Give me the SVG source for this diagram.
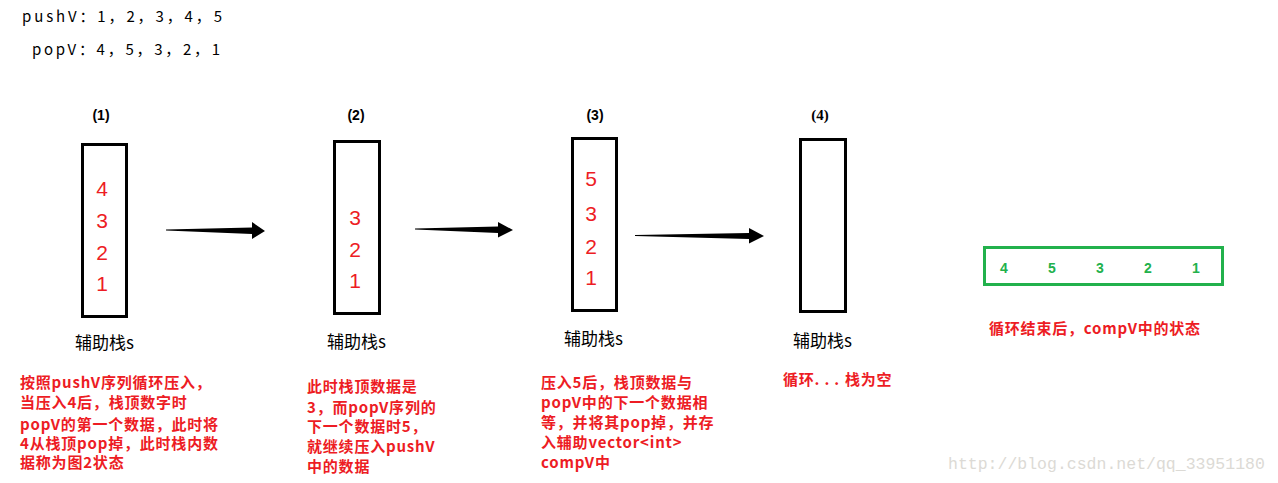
<svg xmlns="http://www.w3.org/2000/svg" width="1278" height="483" viewBox="0 0 1278 483">
<style>
.top{font-family:"Noto Sans CJK SC","Liberation Sans",sans-serif;font-size:15px;fill:#000}
.num{font-family:"Liberation Sans",Arial,sans-serif;font-size:21px;fill:#ed1c24;text-anchor:middle}
.gnum{font-family:"Liberation Sans",Arial,sans-serif;font-size:14px;font-weight:bold;fill:#22b14c;text-anchor:middle}
.tag{font-family:"Liberation Sans",Arial,sans-serif;font-size:14px;font-weight:bold;fill:#000;text-anchor:middle}
.lab{font-family:"Noto Sans CJK SC","Liberation Sans",sans-serif;font-size:17px;fill:#000}
.note{font-family:"Noto Sans CJK SC","Liberation Sans",sans-serif;font-size:15px;font-weight:bold;fill:#ed1c24;letter-spacing:0.8px}
.box{fill:none;stroke:#000;stroke-width:3}
.arrow{fill:#000}
</style>
<rect width="1278" height="483" fill="#fff"/>
<g id="header">
<text class="top" x="22" y="22" textLength="200" lengthAdjust="spacing">pushV：1，2，3，4，5</text>
<text class="top" x="32" y="55" textLength="188" lengthAdjust="spacing">popV：4，5，3，2，1</text>
</g>
<g id="stack1">
<text class="tag" x="101" y="120">(1)</text>
<rect class="box" x="82.5" y="144.5" width="44" height="172"/>
<text class="num" x="102" y="196">4</text>
<text class="num" x="102" y="228">3</text>
<text class="num" x="102" y="260">2</text>
<text class="num" x="102" y="291">1</text>
<text class="lab" x="75" y="349">辅助栈s</text>
</g>
<g id="stack2">
<text class="tag" x="356" y="120">(2)</text>
<rect class="box" x="334.5" y="141.5" width="45" height="172"/>
<text class="num" x="355" y="225">3</text>
<text class="num" x="355" y="257">2</text>
<text class="num" x="355" y="288">1</text>
<text class="lab" x="327" y="348">辅助栈s</text>
</g>
<g id="stack3">
<text class="tag" x="595" y="120">(3)</text>
<rect class="box" x="572.5" y="138.5" width="44" height="172"/>
<text class="num" x="591" y="186">5</text>
<text class="num" x="591" y="221">3</text>
<text class="num" x="591" y="254">2</text>
<text class="num" x="591" y="285">1</text>
<text class="lab" x="564" y="345">辅助栈s</text>
</g>
<g id="stack4">
<text class="tag" x="820" y="120" style="font-family:'Liberation Serif',serif;font-size:15px">(4)</text>
<rect class="box" x="800.5" y="139.5" width="45" height="172"/>
<text class="lab" x="793" y="347">辅助栈s</text>
</g>
<g id="compV">
<rect x="984.5" y="247.5" width="238" height="37" fill="none" stroke="#22b14c" stroke-width="3"/>
<text class="gnum" x="1004" y="273">4</text>
<text class="gnum" x="1052" y="273">5</text>
<text class="gnum" x="1100" y="273">3</text>
<text class="gnum" x="1148" y="273">2</text>
<text class="gnum" x="1196" y="273">1</text>
<text class="note" x="989" y="334">循环结束后，compV中的状态</text>
</g>
<g id="connectors">
<path class="arrow" d="M166,229.5 L252,227.5 L252,222 L265,231 L252,239 L252,234 L166,230.5 Z"/>
<path class="arrow" d="M415,228.5 L498,226.5 L498,222 L513,230 L498,237.5 L498,233 L415,229.5 Z"/>
<path class="arrow" d="M635,235 L749,233 L749,228 L764,236 L749,243.5 L749,239 L635,236 Z"/>
</g>
<g id="note1">
<text class="note" x="20" y="388">按照pushV序列循环压入，</text>
<text class="note" x="20" y="408">当压入4后，栈顶数字时</text>
<text class="note" x="20" y="430">popV的第一个数据，此时将</text>
<text class="note" x="20" y="449">4从栈顶pop掉，此时栈内数</text>
<text class="note" x="20" y="468">据称为图2状态</text>
</g>
<g id="note2">
<text class="note" x="307" y="392">此时栈顶数据是</text>
<text class="note" x="307" y="413">3，而popV序列的</text>
<text class="note" x="307" y="432">下一个数据时5，</text>
<text class="note" x="307" y="452">就继续压入pushV</text>
<text class="note" x="307" y="472">中的数据</text>
</g>
<g id="note3">
<text class="note" x="541" y="388">压入5后，栈顶数据与</text>
<text class="note" x="541" y="408">popV中的下一个数据相</text>
<text class="note" x="541" y="428">等，并将其pop掉，并存</text>
<text class="note" x="541" y="448">入辅助vector&lt;int&gt;</text>
<text class="note" x="541" y="468">compV中</text>
</g>
<g id="note4">
<text class="note" x="783" y="385">循环<tspan style="letter-spacing:5px">...</tspan><tspan x="845">栈为空</tspan></text>
</g>
<text x="948" y="469" style="font-family:'Liberation Mono',monospace;font-size:16.5px;fill:#dcdad5">http://blog.csdn.net/qq_33951180</text>
</svg>
